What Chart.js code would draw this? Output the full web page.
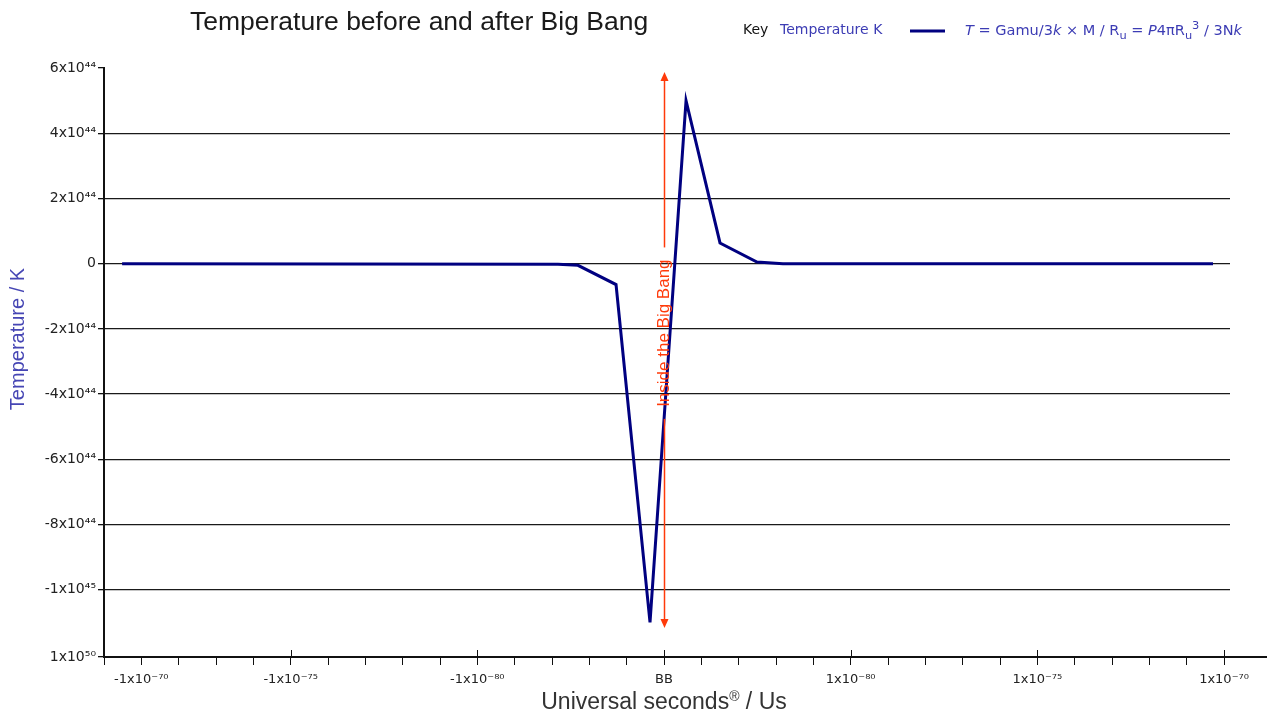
<!DOCTYPE html>
<html><head><meta charset="utf-8">
<script src="https://cdn.jsdelivr.net/npm/chart.js@4.4.0/dist/chart.umd.min.js"></script>
<style>html,body{margin:0;padding:0;background:#fff;overflow:hidden}#wrap{width:1267px;height:713px;position:relative}</style>
</head><body><div id="wrap"><canvas id="c" width="1267" height="713"></canvas></div>
<script>
// ---- data (x in "5-decade" units, BB = 0) ----
const timeUnits    = [-2.903, -0.568, -0.461, -0.257, -0.075, 0.118, 0.300, 0.498, 0.637, 2.941];
const temperatureK = [0, -0.02e44, -0.05e44, -0.64e44, -1.10e45, 5.0e44, 0.635e44, 0.05e44, 0, 0];

const xMin = -3, xMax = 3.032, xMinorStep = 0.2;
const xLabelValues = [-2.8, -2, -1, 0, 1, 2, 3];
const xLabels = ['-1x10\u207B\u2077\u2070', '-1x10\u207B\u2077\u2075', '-1x10\u207B\u2078\u2070', 'BB', '1x10\u207B\u2078\u2070', '1x10\u207B\u2077\u2075', '1x10\u207B\u2077\u2070'];
const xMajorValues = [-2, -1, 0, 1, 2, 3];

const yMin = -1.206e45, yMax = 6e44;
const yTickValues = [-1.206e45, -1e45, -8e44, -6e44, -4e44, -2e44, 0, 2e44, 4e44, 6e44];
const yTickLabels = ['1x10\u2075\u2070', '-1x10\u2074\u2075', '-8x10\u2074\u2074', '-6x10\u2074\u2074', '-4x10\u2074\u2074', '-2x10\u2074\u2074', '0', '2x10\u2074\u2074', '4x10\u2074\u2074', '6x10\u2074\u2074'];

const arrowTop = 5.88e44, arrowBottom = -1.117e45, arrowLabelCenter = -2.13e44;
const arrowLabel = 'Inside the Big Bang';

const FONT = '"Liberation Sans", Arial, sans-serif';
const WIDE = '"DejaVu Sans", sans-serif';
const BLUE = '#3c3cb4';
const RED = '#ff3a0a';
const NAVY = '#000080';

function drawRich(ctx, x, y, segs, size, color, family) {
  ctx.save();
  ctx.textBaseline = 'alphabetic';
  ctx.textAlign = 'left';
  for (const s of segs) {
    const sz = Math.round(size * (s.scale || 1));
    ctx.font = (s.italic ? 'italic ' : '') + sz + 'px ' + family;
    ctx.fillStyle = s.color || color;
    ctx.fillText(s.t, x, y + (s.dy || 0) * size);
    x += ctx.measureText(s.t).width;
  }
  ctx.restore();
  return x;
}
function richWidth(ctx, segs, size, family) {
  let w = 0;
  for (const s of segs) { ctx.font = (s.italic ? 'italic ' : '') + Math.round(size * (s.scale || 1)) + 'px ' + family; w += ctx.measureText(s.t).width; }
  return w;
}

const decor = {
  id: 'decor',
  afterDraw(chart) {
    const ctx = chart.ctx;
    const xs = chart.scales.x, ys = chart.scales.y;
    const ca = chart.chartArea;
    ctx.save();
    // major tick extensions above axis & axis extension
    ctx.strokeStyle = '#111';
    ctx.lineWidth = 1;
    for (const v of xMajorValues) {
      const px = Math.round(xs.getPixelForValue(v)) + 0.5;
      ctx.beginPath(); ctx.moveTo(px, ca.bottom - 7); ctx.lineTo(px, ca.bottom); ctx.stroke();
    }
    ctx.lineWidth = 2;
    ctx.beginPath(); ctx.moveTo(ca.right, ca.bottom); ctx.lineTo(chart.width, ca.bottom); ctx.stroke();

    // title
    ctx.fillStyle = '#1a1a1a';
    ctx.font = '26.5px ' + FONT;
    ctx.textBaseline = 'middle';
    ctx.textAlign = 'left';
    ctx.fillText('Temperature before and after Big Bang', 190, 23);

    // legend
    ctx.font = '14px ' + WIDE;
    ctx.fillStyle = '#111';
    ctx.fillText('Key', 743, 30);
    ctx.fillStyle = BLUE;
    ctx.fillText('Temperature K', 780, 30);
    ctx.strokeStyle = NAVY; ctx.lineWidth = 3;
    ctx.beginPath(); ctx.moveTo(910, 31); ctx.lineTo(945, 31); ctx.stroke();
    const fsegs = [
      {t: 'T', italic: true}, {t: ' = Gamu/3'}, {t: 'k', italic: true}, {t: ' \u00D7 M / R'},
      {t: 'u', scale: 0.75, dy: 0.25}, {t: ' = '}, {t: 'P', italic: true}, {t: '4\u03C0R'},
      {t: 'u', scale: 0.75, dy: 0.25}, {t: '3', scale: 0.75, dy: -0.4}, {t: ' / 3N'}, {t: 'k', italic: true}
    ];
    const fw = richWidth(ctx, fsegs, 14, WIDE);
    ctx.save();
    ctx.translate(965, 35);
    ctx.scale(277 / fw, 1);
    drawRich(ctx, 0, 0, fsegs, 14, BLUE, WIDE);
    ctx.restore();

    // axis titles
    ctx.save();
    ctx.translate(18, 339);
    ctx.rotate(-Math.PI / 2);
    ctx.font = '20px ' + FONT;
    ctx.fillStyle = '#4646b4';
    ctx.textAlign = 'center';
    ctx.textBaseline = 'middle';
    ctx.fillText('Temperature / K', 0, 0);
    ctx.restore();

    const segs = [{t: 'Universal seconds'}, {t: '\u00AE', scale: 0.6, dy: -0.35}, {t: ' / Us'}];
    const w = richWidth(ctx, segs, 23, FONT);
    drawRich(ctx, 664 - w / 2, 709, segs, 23, '#333', FONT);

    // annotation arrow
    const ax = Math.round(xs.getPixelForValue(0)) + 0.5;
    const yT = ys.getPixelForValue(arrowTop), yB = ys.getPixelForValue(arrowBottom);
    const yC = ys.getPixelForValue(arrowLabelCenter);
    ctx.font = '17px ' + FONT;
    const tw = ctx.measureText(arrowLabel).width;
    const gap = tw / 2 + 12;
    ctx.strokeStyle = RED; ctx.fillStyle = RED; ctx.lineWidth = 1.5;
    ctx.beginPath(); ctx.moveTo(ax, yT + 6); ctx.lineTo(ax, yC - gap); ctx.stroke();
    ctx.beginPath(); ctx.moveTo(ax, yC + gap); ctx.lineTo(ax, yB - 6); ctx.stroke();
    ctx.beginPath(); ctx.moveTo(ax, yT); ctx.lineTo(ax - 4, yT + 9); ctx.lineTo(ax + 4, yT + 9); ctx.closePath(); ctx.fill();
    ctx.beginPath(); ctx.moveTo(ax, yB); ctx.lineTo(ax - 4, yB - 9); ctx.lineTo(ax + 4, yB - 9); ctx.closePath(); ctx.fill();
    ctx.save();
    ctx.translate(ax, yC);
    ctx.rotate(-Math.PI / 2);
    ctx.textAlign = 'center';
    ctx.textBaseline = 'middle';
    ctx.fillText(arrowLabel, 0, 0);
    ctx.restore();
    ctx.restore();
  }
};

new Chart(document.getElementById('c'), {
  type: 'line',
  data: {
    datasets: [{
      label: 'Temperature K',
      data: timeUnits.map((t, i) => ({x: t, y: temperatureK[i]})),
      borderColor: NAVY,
      borderWidth: 3,
      pointRadius: 0,
      tension: 0,
      fill: false
    }]
  },
  options: {
    responsive: false,
    animation: false,
    layout: {padding: {left: 0, top: 68, right: 37, bottom: 0}},
    plugins: {legend: {display: false}, title: {display: false}, tooltip: {enabled: false}},
    scales: {
      x: {
        type: 'linear', min: xMin, max: xMax,
        afterBuildTicks(scale) {
          const t = [];
          for (let v = xMin; v <= 3.0001; v += xMinorStep) t.push({value: Math.round(v * 10) / 10});
          scale.ticks = t;
        },
        afterFit(scale) { scale.height = 56; },
        grid: {drawOnChartArea: false, drawTicks: true, tickLength: 8, tickColor: '#111', tickWidth: 1},
        border: {display: true, color: '#111', width: 2},
        ticks: {
          autoSkip: false, maxRotation: 0, minRotation: 0, padding: 7,
          color: '#222', font: {family: WIDE, size: 13},
          callback(v) {
            const i = xLabelValues.findIndex(a => Math.abs(a - v) < 1e-6);
            return i >= 0 ? xLabels[i] : '';
          }
        }
      },
      y: {
        type: 'linear', min: yMin, max: yMax,
        afterBuildTicks(scale) { scale.ticks = yTickValues.map(v => ({value: v})); },
        afterFit(scale) { scale.width = 104; },
        grid: {
          color: ctx => (ctx.tick && (ctx.tick.value === yMax || ctx.tick.value === yMin)) ? 'rgba(0,0,0,0)' : '#1a1a1a',
          lineWidth: 1.3, tickLength: 6, tickColor: '#111'
        },
        border: {display: true, color: '#111', width: 2},
        ticks: {
          padding: 2, color: '#222', font: {family: WIDE, size: 14},
          callback(v, i) { return yTickLabels[i]; }
        }
      }
    }
  },
  plugins: [decor]
});
</script>
</body></html>
